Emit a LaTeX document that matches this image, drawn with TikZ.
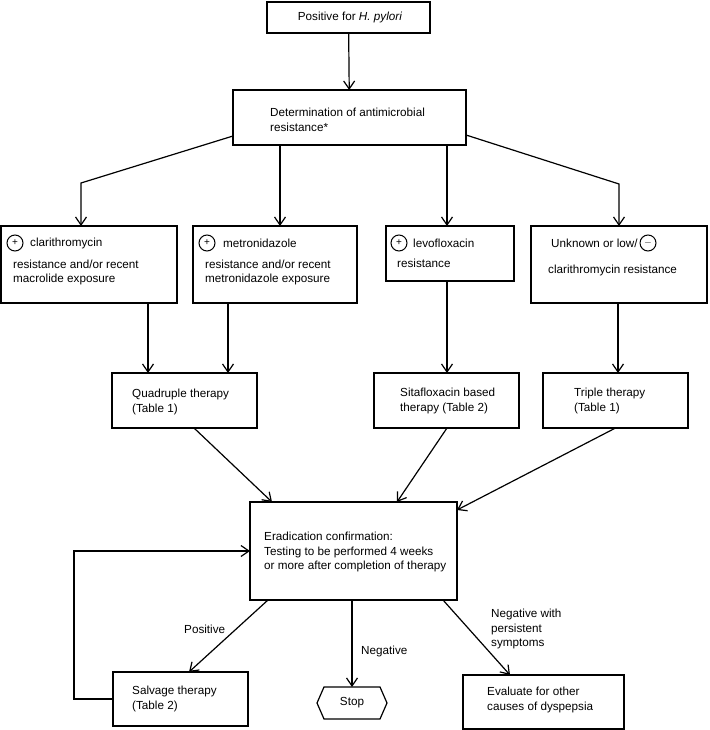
\documentclass[tikz,border=0pt]{standalone}
\usepackage{fontspec}
\setmainfont{Liberation Sans}
\usetikzlibrary{arrows.meta}
\begin{document}
\begin{tikzpicture}[x=1pt,y=-1pt,
  every node/.style={font=\fontsize{11.7}{14.5}\selectfont},
  box/.style={draw, line width=1.2pt, inner sep=0pt, outer sep=0pt},
  txt/.style={inner sep=0pt, anchor=west, align=left},
  arr/.style={line width=1.2pt, -{Straight Barb[length=8pt,width=11pt]}},
  sym/.style={circle, draw, line width=1pt, minimum size=16pt, inner sep=0pt, font=\fontsize{10}{12}\selectfont}]
\useasboundingbox (0,0) rectangle (709,730);

% boxes
\node[box, minimum width=163pt, minimum height=31pt] (top) at (348.5,17.5) {};
\node[box, minimum width=233pt, minimum height=55pt] (det) at (349.5,117.5) {};
\node[box, minimum width=176pt, minimum height=77pt] (clar) at (89,264.5) {};
\node[box, minimum width=164pt, minimum height=77pt] (metro) at (275,264.5) {};
\node[box, minimum width=128pt, minimum height=55pt] (levo) at (450,253.5) {};
\node[box, minimum width=176pt, minimum height=77pt] (unk) at (619,264.5) {};
\node[box, minimum width=145pt, minimum height=55pt] (quad) at (184.5,400.5) {};
\node[box, minimum width=145pt, minimum height=55pt] (sita) at (446.5,400.5) {};
\node[box, minimum width=145pt, minimum height=55pt] (trip) at (615.5,400.5) {};
\node[box, minimum width=207pt, minimum height=98pt] (erad) at (353.5,551) {};
\node[box, minimum width=135pt, minimum height=54pt] (salv) at (180.5,699) {};
\node[box, minimum width=161pt, minimum height=54pt] (eval) at (543.5,702) {};
\node[inner sep=0pt, outer sep=0pt, minimum width=70pt, minimum height=32pt] (stop) at (352,703) {Stop};
\draw[line width=1.2pt] (stop.west) -- ([xshift=7pt]stop.north west) -- ([xshift=-7pt]stop.north east)
  -- (stop.east) -- ([xshift=-7pt]stop.south east) -- ([xshift=7pt]stop.south west) -- cycle;

% texts
\node[inner sep=0pt] (ttop) at (350,17) {Positive for \textit{H. pylori}};
\node[txt] (tdet) at (270,120) {Determination of antimicrobial\\resistance*};
\node[sym] (s1) at (15,243) {+};
\node[txt] (tclar1) at (30,243) {clarithromycin};
\node[txt] (tclar2) at (13,272.5) {resistance and/or recent\\macrolide exposure};
\node[sym] (s2) at (207,243) {+};
\node[txt] (tmet1) at (223,243) {metronidazole};
\node[txt] (tmet2) at (205,272.5) {resistance and/or recent\\metronidazole exposure};
\node[sym] (s3) at (399,243) {+};
\node[txt] (tlev1) at (413,243) {levofloxacin};
\node[txt] (tlev2) at (397,263) {resistance};
\node[txt] (tunk1) at (551,243) {Unknown or low/};
\node[sym] (s4) at (648,243) {$-$};
\node[txt] (tunk2) at (548,270) {clarithromycin resistance};
\node[txt] (tquad) at (132,402) {Quadruple therapy\\(Table 1)};
\node[txt] (tsita) at (400,401) {Sitafloxacin based\\therapy (Table 2)};
\node[txt] (ttrip) at (574,401) {Triple therapy\\(Table 1)};
\node[txt] (terad) at (264,552) {Eradication confirmation:\\Testing to be performed 4 weeks\\or more after completion of therapy};
\node[txt] (tsalv) at (132,699) {Salvage therapy\\(Table 2)};
\node[txt] (teval) at (487,700) {Evaluate for other\\causes of dyspepsia};

% connectors
\coordinate (c1) at (81,183);
\coordinate (c2) at (619,184);
\draw[arr] (top) -- (det);
\draw[arr] ([yshift=-18.5pt]det.west) -- (c1) -- (c1 |- clar.north);
\draw[arr] ([xshift=-69.5pt]det.south) -- ([xshift=5pt]metro.north);
\draw[arr] ([xshift=97.5pt]det.south) -- ([xshift=-3pt]levo.north);
\draw[arr] ([yshift=-17.5pt]det.east) -- (c2) -- (c2 |- unk.north);

\draw[arr] ([xshift=59pt]clar.south) -- ([xshift=-36.5pt]quad.north);
\draw[arr] ([xshift=-47pt]metro.south) -- ([xshift=43.5pt]quad.north);
\draw[arr] ([xshift=-3pt]levo.south) -- ([xshift=0.5pt]sita.north);
\draw[arr] ([xshift=-1pt]unk.south) -- ([xshift=2.5pt]trip.north);

\draw[arr] ([xshift=9.5pt]quad.south) -- ([xshift=-81.5pt]erad.north);
\draw[arr] ([xshift=0.5pt]sita.south) -- ([xshift=43.5pt]erad.north);
\draw[arr] (trip.south) -- ([yshift=-8pt]erad.north east);

\draw[arr] ([xshift=-85.5pt]erad.south) -- ([xshift=8.5pt]salv.north);
\draw[arr] ([xshift=-1.5pt]erad.south) -- (stop.north);
\draw[arr] ([xshift=89.5pt]erad.south) -- ([xshift=-33.5pt]eval.north);
\node[txt] (lpos) at (184,629) {Positive};
\node[txt] (lneg) at (361,651) {Negative};
\node[txt] (lnegp) at (491,629) {Negative with\\persistent\\symptoms};

\draw[arr] (salv.west) -- ++(-39,0) |- (erad.west);
\end{tikzpicture}
\end{document}
